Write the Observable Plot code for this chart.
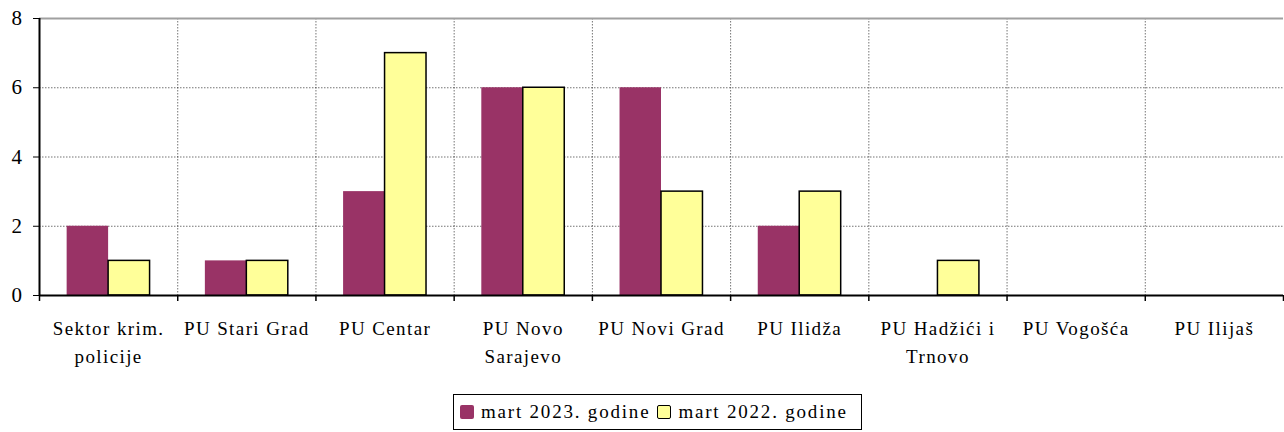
<!DOCTYPE html>
<html><head><meta charset="utf-8">
<script src="https://cdn.jsdelivr.net/npm/d3@7"></script>
<script src="https://cdn.jsdelivr.net/npm/@observablehq/plot@0.6"></script>
<style>
html,body{margin:0;padding:0;background:#fff;}
body{width:1284px;height:432px;position:relative;overflow:hidden;font-family:'Liberation Serif','Tinos','Times New Roman','Nimbus Roman','DejaVu Serif',serif;}
#chart svg, #chart svg text{font-family:'Liberation Serif','Tinos','Times New Roman','Nimbus Roman','DejaVu Serif',serif !important;}
#chart svg text{letter-spacing:1.4px;}
#legend{position:absolute;left:453px;top:394px;width:409px;height:36px;border:1.5px solid #000;box-sizing:border-box;display:flex;align-items:center;padding-left:6px;font-size:19px;letter-spacing:1.8px;color:#000;white-space:nowrap;}
#legend .sw{width:14px;height:14px;display:inline-block;margin-right:7px;border-radius:2px;box-sizing:border-box;}
#legend .item{display:flex;align-items:center;margin-right:7px;}
</style></head><body>
<div id="chart"></div>
<div id="legend"></div>
<script>
const categories = ["Sektor krim.\npolicije", "PU Stari Grad", "PU Centar", "PU Novo\nSarajevo", "PU Novi Grad", "PU Ilidža", "PU Hadžići i\nTrnovo", "PU Vogošća", "PU Ilijaš"];
const seriesNames = ["mart 2023. godine", "mart 2022. godine"];
const values2023 = [2, 1, 3, 6, 6, 2, 0, 0, 0];
const values2022 = [1, 1, 7, 6, 3, 3, 1, 0, 0];
const yTicks = [0, 2, 4, 6, 8];
const colors = ["#993366", "#FFFF99"];

const rows = [];
categories.forEach((c, i) => {
  rows.push({idx: i, cat: c, series: seriesNames[0], s: 0, value: values2023[i]});
  rows.push({idx: i, cat: c, series: seriesNames[1], s: 1, value: values2022[i]});
});
// bar layout within each category slot (fraction of slot)
const barStart = 0.2, barWidth = 0.3;
const bx1 = d => d.idx + barStart + d.s * barWidth;
const bx2 = d => d.idx + barStart + (d.s + 1) * barWidth;

const n = categories.length;
const plot = Plot.plot({
  width: 1284,
  height: 375,
  marginLeft: 39,
  marginRight: 1,
  marginTop: 18,
  marginBottom: 80,
  style: {background: "#fff", color: "#000"},
  x: {type: "linear", domain: [0, n], label: null},
  y: {domain: [0, 8], label: null},
  marks: [
    Plot.gridY([2, 4, 6], {stroke: "#000", strokeOpacity: 0.55, strokeDasharray: "1.5,1.5"}),
    Plot.gridX(d3.range(1, n), {stroke: "#000", strokeOpacity: 0.55, strokeDasharray: "1.5,1.5"}),
    Plot.ruleY([8], {stroke: "#a0a0a0", strokeWidth: 2}),
    Plot.rectY(rows.filter(d => d.s === 0 && d.value > 0), {x1: bx1, x2: bx2, y1: 0, y2: "value", fill: colors[0]}),
    Plot.rectY(rows.filter(d => d.s === 1 && d.value > 0), {x1: bx1, x2: bx2, y1: 0, y2: "value", fill: colors[1], stroke: "#000", strokeWidth: 1.5}),
    Plot.ruleY([0], {stroke: "#000", strokeWidth: 2}),
    Plot.ruleX([0], {stroke: "#000", strokeWidth: 2}),
    Plot.axisY(yTicks, {tickSize: 6, tickPadding: 10, fontSize: 21, tickFormat: d => String(d)}),
    Plot.axisX(d3.range(0, n + 1), {tickSize: 6, tickFormat: () => "", strokeWidth: 1.5}),
    Plot.axisX(d3.range(n).map(i => i + 0.5), {tickSize: 0, tickPadding: 20, fontSize: 19, lineHeight: 1.45, tickFormat: d => categories[Math.floor(d)]})
  ]
});
document.getElementById("chart").appendChild(plot);

const legend = document.getElementById("legend");
seriesNames.forEach((name, i) => {
  const item = document.createElement("span");
  item.className = "item";
  const sw = document.createElement("span");
  sw.className = "sw";
  sw.style.background = colors[i];
  if (i === 1) sw.style.border = "1.5px solid #000";
  item.appendChild(sw);
  item.appendChild(document.createTextNode(name));
  legend.appendChild(item);
});
</script>
</body></html>
